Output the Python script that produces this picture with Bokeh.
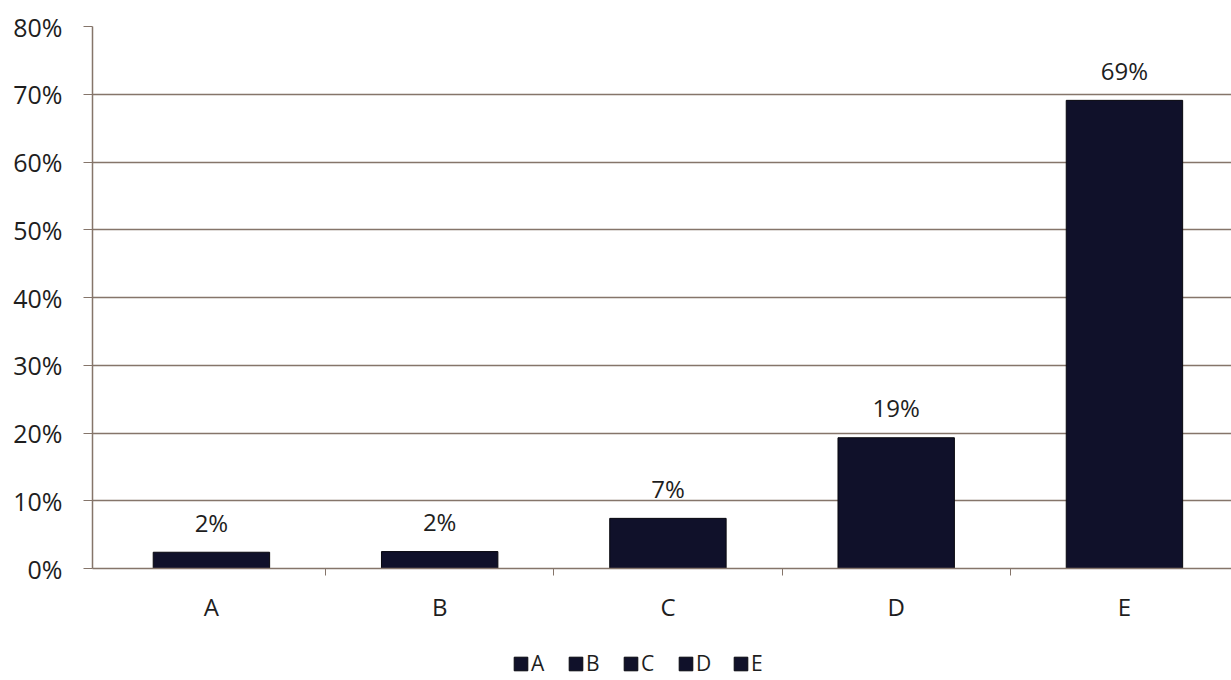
from bokeh.plotting import figure
from bokeh.layouts import column
from bokeh.models import ColumnDataSource, Range1d, FixedTicker, NumeralTickFormatter, Legend, LegendItem
from bokeh.embed import file_html
from bokeh.resources import INLINE
from bokeh.core.properties import value

categories = ["A", "B", "C", "D", "E"]
shares = [0.024, 0.025, 0.074, 0.193, 0.691]
labels = ["2%", "2%", "7%", "19%", "69%"]
y_ticks = [0, 0.1, 0.2, 0.3, 0.4, 0.5, 0.6, 0.7, 0.8]

xs = list(range(len(categories)))
src = ColumnDataSource(dict(x=xs, top=shares, cat=categories, lab=labels))

FONT = "Open Sans"
BROWN = "#85756a"
TXT = "#1e1e1e"
BAR = "#10112a"
BAR_LINE = "#08080f"

p = figure(width=1231, height=640, output_backend="svg", toolbar_location=None,
           x_range=Range1d(-0.521, 4.469), y_range=Range1d(0, 0.8),
           min_border_left=92, min_border_right=0, min_border_top=26, min_border_bottom=72,
           outline_line_color=None, background_fill_color="white", border_fill_color="white")

r = p.vbar(x="x", top="top", width=0.51, source=src, fill_color=BAR, line_color=BAR_LINE)

p.text(x="x", y="top", text="lab", source=src, text_align="center", text_baseline="middle",
       y_offset=-30, text_font=value(FONT), text_font_size="24px", text_color=TXT)

p.xaxis.ticker = FixedTicker(ticks=xs, minor_ticks=[x + 0.5 for x in xs[:-1]])
p.xaxis.major_label_overrides = {i: c for i, c in enumerate(categories)}
p.xaxis.major_tick_line_color = None
p.xaxis.major_tick_out = 0
p.xaxis.major_tick_in = 0
p.xaxis.minor_tick_in = 0
p.xaxis.minor_tick_out = 7
p.xaxis.minor_tick_line_color = BROWN
p.xaxis.axis_line_color = BROWN
p.xaxis.axis_line_width = 1.5
p.xaxis.major_label_text_font = FONT
p.xaxis.major_label_text_font_size = "24px"
p.xaxis.major_label_text_color = TXT
p.xaxis.major_label_standoff = 14

p.yaxis.ticker = FixedTicker(ticks=y_ticks)
p.yaxis.formatter = NumeralTickFormatter(format="0%")
p.yaxis.minor_tick_line_color = None
p.yaxis.major_tick_in = 0
p.yaxis.major_tick_out = 9
p.yaxis.major_tick_line_color = BROWN
p.yaxis.axis_line_color = BROWN
p.yaxis.axis_line_width = 1.5
p.yaxis.major_label_text_font = FONT
p.yaxis.major_label_text_font_size = "25px"
p.yaxis.major_label_text_color = TXT
p.yaxis.major_label_standoff = 21

p.xgrid.grid_line_color = None
p.ygrid.grid_line_color = BROWN
p.ygrid.grid_line_width = 1.5

# legend strip below the chart (its bars lie outside the strip's visible ranges)
p2 = figure(width=1231, height=40, output_backend="svg", toolbar_location=None,
            x_range=Range1d(10, 20), y_range=Range1d(10, 20),
            x_axis_type=None, y_axis_type=None,
            min_border=0, outline_line_color=None, background_fill_color="white",
            border_fill_color="white")
p2.grid.visible = False
r2 = p2.vbar(x="x", top="top", width=0.5, source=src, fill_color=BAR, line_color=BAR_LINE)

legend = Legend(items=[LegendItem(label=c, renderers=[r2], index=i) for i, c in enumerate(categories)],
                orientation="horizontal", location=(420, 3),
                label_text_font=FONT, label_text_font_size="21px", label_text_color=TXT,
                glyph_width=17, glyph_height=17, spacing=16, label_standoff=2,
                border_line_color=None, background_fill_alpha=0, padding=2, margin=0)
p2.add_layout(legend, "center")

layout = column(p, p2, spacing=0)
open("out.html", "w").write(file_html(layout, INLINE))
